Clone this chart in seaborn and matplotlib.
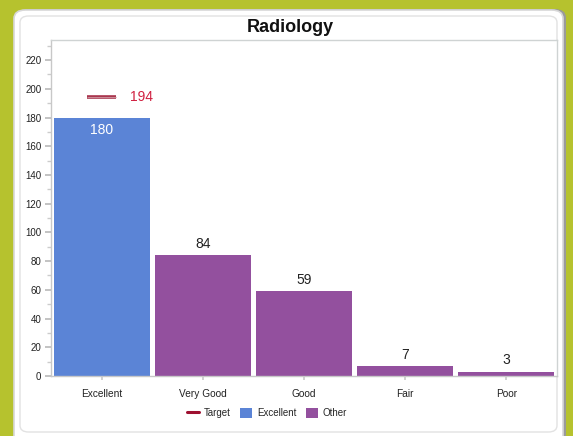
import matplotlib
matplotlib.use("Agg")
import matplotlib.pyplot as plt
import seaborn as sns
import pandas as pd
from matplotlib.patches import FancyBboxPatch, Patch
from matplotlib.lines import Line2D

categories = ["Excellent", "Very Good", "Good", "Fair", "Poor"]
values = [180, 84, 59, 7, 3]
groups = ["Excellent", "Other", "Other", "Other", "Other"]
target = 194
yticks = list(range(0, 221, 20))

sns.set_theme(style="white")
plt.rcParams["font.family"] = ["Liberation Sans", "DejaVu Sans"]

BLUE = "#5b84d6"
PURPLE = "#93509e"
RED = "#a8324a"

fig = plt.figure(figsize=(5.73, 4.36), dpi=100)
fig.patch.set_facecolor("#b6c22e")
W, H = 573, 436

# white rounded panel
shadow = FancyBboxPatch((17 / W, -10 / H), 549 / W, 437 / H, boxstyle="round,pad=0,rounding_size=0.02",
                        transform=fig.transFigure, facecolor="#9a9a9a", edgecolor="none", zorder=0)
panel = FancyBboxPatch((14 / W, -10 / H), 549 / W, 436 / H, boxstyle="round,pad=0,rounding_size=0.02",
                       transform=fig.transFigure, facecolor="white", edgecolor="#d8d8d8", linewidth=1.2, zorder=0.1)
inner = FancyBboxPatch((20 / W, 4 / H), 537 / W, 416 / H, boxstyle="round,pad=0,rounding_size=0.015",
                       transform=fig.transFigure, facecolor="white", edgecolor="#e2e2e2", linewidth=1.0, zorder=0.2)
fig.patches.extend([shadow, panel, inner])

ax = fig.add_axes([51 / W, (H - 376) / H, (557 - 51) / W, (376 - 40) / H])
ax.set_zorder(1)
df = pd.DataFrame({"category": categories, "value": values, "group": groups})
sns.barplot(data=df, x="category", y="value", hue="group", dodge=False, width=0.95,
            palette={"Excellent": BLUE, "Other": PURPLE}, ax=ax, legend=False,
            edgecolor="none", saturation=1)

ax.set_xlim(-0.5, len(categories) - 0.5)
ax.set_ylim(0, 234)
ax.set_yticks(yticks)
ax.set_yticks(range(10, 231, 20), minor=True)
ax.tick_params(axis="y", which="major", length=4, color="#bbbbbb", labelsize=7, pad=3, left=True,
               labelcolor="#222222")
ax.tick_params(axis="y", which="minor", length=3, color="#cccccc", left=True)
ax.tick_params(axis="x", length=3, color="#cccccc", labelsize=7.3, pad=6, bottom=True, labelcolor="#222222")
ax.set_xlabel("")
ax.set_ylabel("")
for s in ax.spines.values():
    s.set_color("#cfd3d3")
    s.set_linewidth(1)
ax.spines["left"].set_color("#c8c8c8")
ax.spines["bottom"].set_color("#c8c8c8")

# value labels
for i, v in enumerate(values):
    if i == 0:
        ax.text(i, v - 4, str(v), ha="center", va="top", color="white", fontsize=10)
    else:
        ax.text(i, v + 3, str(v), ha="center", va="bottom", color="#222222", fontsize=10)

# target line
ax.plot([-0.14, 0.14], [target, target], color=RED, linewidth=2.6, solid_capstyle="butt")
ax.plot([-0.14, 0.14], [target, target], color="#c98a96", linewidth=0.8, solid_capstyle="butt")
ax.text(0.28, target, str(target), color="#d02040", fontsize=10, va="center", ha="left")

fig.text(290 / W, 1 - 27 / H, "Radiology", ha="center", va="center", fontsize=13, fontweight="bold", color="#111111")

handles = [Line2D([0], [0], color="#9e1030", linewidth=2.2),
           Patch(facecolor=BLUE, edgecolor="none"),
           Patch(facecolor=PURPLE, edgecolor="none")]
fig.legend(handles, ["Target", "Excellent", "Other"], loc="center", bbox_to_anchor=(267 / W, 1 - 413 / H),
           ncol=3, frameon=False, fontsize=7, handlelength=1.2, handleheight=1.3, columnspacing=1.0,
           handletextpad=0.5)

fig.savefig("out.png", dpi=100, facecolor=fig.get_facecolor())
